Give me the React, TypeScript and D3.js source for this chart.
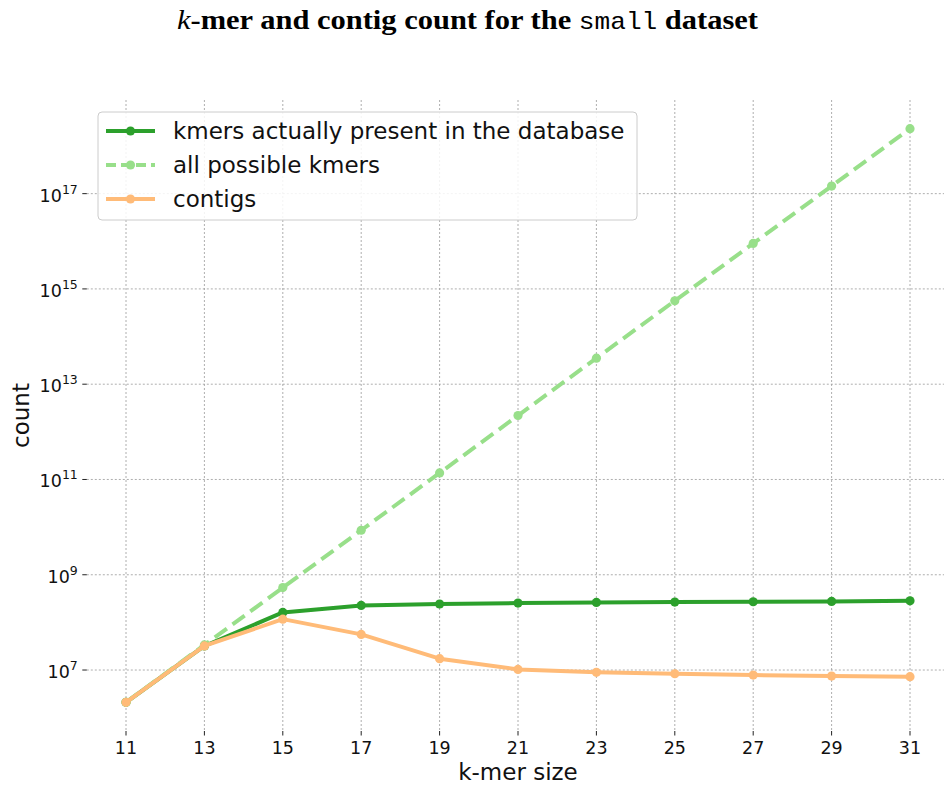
import { useEffect, useRef } from 'react';
import * as d3 from 'd3';

const kmerSizes = [11, 13, 15, 17, 19, 21, 23, 25, 27, 29, 31];
const presentKmers = [2.1e6, 3.2e7, 1.62e8, 2.27e8, 2.43e8, 2.54e8, 2.63e8, 2.67e8, 2.71e8, 2.76e8, 2.84e8];
const possibleKmers = [2.1e6, 3.36e7, 5.37e8, 8.59e9, 1.37e11, 2.2e12, 3.52e13, 5.63e14, 9.0e15, 1.44e17, 2.31e18];
const contigs = [2.1e6, 3.2e7, 1.17e8, 5.6e7, 1.73e7, 1.03e7, 8.95e6, 8.36e6, 7.85e6, 7.48e6, 7.24e6];
const yTickExponents = [7, 9, 11, 13, 15, 17];

type Series = {
  name: string;
  values: number[];
  color: string;
  dash: string | null;
};

const series: Series[] = [
  { name: 'kmers actually present in the database', values: presentKmers, color: '#2ca02c', dash: null },
  { name: 'all possible kmers', values: possibleKmers, color: '#98df8a', dash: '15,7' },
  { name: 'contigs', values: contigs, color: '#ffbb78', dash: null },
];

const WIDTH = 944;
const HEIGHT = 787;
const plot = { left: 86.8, right: 949.2, top: 100, bottom: 731 };
const SANS = '"DejaVu Sans", sans-serif';

function drawChart(svgElement: SVGSVGElement) {
  const svg = d3.select(svgElement);
  svg.selectAll('*').remove();

  // matplotlib-style 5% margins (log space for y)
  const xExt = d3.extent(kmerSizes) as [number, number];
  const xPad = (xExt[1] - xExt[0]) * 0.05;
  const x = d3.scaleLinear().domain([xExt[0] - xPad, xExt[1] + xPad]).range([plot.left, plot.right]);

  const all = series.flatMap((s) => s.values).map((v) => Math.log10(v));
  const lo = d3.min(all) ?? 6;
  const hi = d3.max(all) ?? 18;
  const yPad = (hi - lo) * 0.05;
  const y = d3
    .scaleLog()
    .domain([Math.pow(10, lo - yPad), Math.pow(10, hi + yPad)])
    .range([plot.bottom, plot.top]);

  // grid
  const grid = svg.append('g').attr('stroke', '#999999').attr('stroke-width', 0.8).attr('stroke-dasharray', '2,2');
  grid
    .selectAll('line.v')
    .data(kmerSizes)
    .join('line')
    .attr('x1', (d: number) => x(d))
    .attr('x2', (d: number) => x(d))
    .attr('y1', plot.top)
    .attr('y2', plot.bottom);
  grid
    .selectAll('line.h')
    .data(yTickExponents)
    .join('line')
    .attr('class', 'h')
    .attr('x1', plot.left)
    .attr('x2', plot.right)
    .attr('y1', (e: number) => y(Math.pow(10, e)))
    .attr('y2', (e: number) => y(Math.pow(10, e)));

  // x ticks
  const xt = svg.append('g');
  xt.selectAll('line')
    .data(kmerSizes)
    .join('line')
    .attr('x1', (d: number) => x(d))
    .attr('x2', (d: number) => x(d))
    .attr('y1', plot.bottom)
    .attr('y2', plot.bottom + 4.5)
    .attr('stroke', '#222')
    .attr('stroke-width', 1);
  xt.selectAll('text')
    .data(kmerSizes)
    .join('text')
    .attr('x', (d: number) => x(d))
    .attr('y', plot.bottom + 22.5)
    .attr('text-anchor', 'middle')
    .attr('font-family', SANS)
    .attr('font-size', 17.5)
    .attr('fill', '#111')
    .text((d: number) => String(d));

  // y ticks
  const yt = svg.append('g');
  yt.selectAll('line')
    .data(yTickExponents)
    .join('line')
    .attr('x1', plot.left - 4.5)
    .attr('x2', plot.left)
    .attr('y1', (e: number) => y(Math.pow(10, e)))
    .attr('y2', (e: number) => y(Math.pow(10, e)))
    .attr('stroke', '#222')
    .attr('stroke-width', 1);
  const labels = yt
    .selectAll('text')
    .data(yTickExponents)
    .join('text')
    .attr('x', plot.left - 9)
    .attr('y', (e: number) => y(Math.pow(10, e)) + 8)
    .attr('text-anchor', 'end')
    .attr('font-family', SANS)
    .attr('font-size', 17.5)
    .attr('fill', '#111');
  labels.append('tspan').text('10');
  labels
    .append('tspan')
    .attr('dy', -8)
    .attr('font-size', 12.5)
    .text((e: number) => String(e));

  // lines
  for (const s of series) {
    const pts: [number, number][] = kmerSizes.map((k, i) => [k, s.values[i]]);
    const line = d3
      .line<[number, number]>()
      .x((p) => x(p[0]))
      .y((p) => y(p[1]));
    const g = svg.append('g');
    g.append('path')
      .attr('d', line(pts) ?? '')
      .attr('fill', 'none')
      .attr('stroke', s.color)
      .attr('stroke-width', 4)
      .attr('stroke-linejoin', 'round')
      .attr('stroke-dasharray', s.dash);
    g.selectAll('circle')
      .data(pts)
      .join('circle')
      .attr('cx', (p: [number, number]) => x(p[0]))
      .attr('cy', (p: [number, number]) => y(p[1]))
      .attr('r', 4.6)
      .attr('fill', s.color);
  }

  // legend
  const leg = svg.append('g');
  leg
    .append('rect')
    .attr('x', 98)
    .attr('y', 112)
    .attr('width', 539)
    .attr('height', 108)
    .attr('rx', 4)
    .attr('fill', 'white')
    .attr('fill-opacity', 0.85)
    .attr('stroke', '#cccccc')
    .attr('stroke-width', 1);
  series.forEach((s, i) => {
    const cy = 131 + i * 34;
    leg
      .append('line')
      .attr('x1', 106)
      .attr('x2', 155)
      .attr('y1', cy)
      .attr('y2', cy)
      .attr('stroke', s.color)
      .attr('stroke-width', 4)
      .attr('stroke-dasharray', s.dash ? '10,5' : null);
    leg.append('circle').attr('cx', 130.5).attr('cy', cy).attr('r', 4.6).attr('fill', s.color);
    leg
      .append('text')
      .attr('x', 173)
      .attr('y', cy + 8)
      .attr('font-family', SANS)
      .attr('font-size', 23)
      .attr('fill', '#111')
      .text(s.name);
  });

  // axis titles
  svg
    .append('text')
    .attr('x', (plot.left + plot.right) / 2)
    .attr('y', 780)
    .attr('text-anchor', 'middle')
    .attr('font-family', SANS)
    .attr('font-size', 23)
    .attr('fill', '#111')
    .text('k-mer size');
  svg
    .append('text')
    .attr('transform', `translate(29,${(plot.top + plot.bottom) / 2}) rotate(-90)`)
    .attr('text-anchor', 'middle')
    .attr('font-family', SANS)
    .attr('font-size', 23)
    .attr('fill', '#111')
    .text('count');

  // title with mixed fonts (LaTeX look)
  const title = svg
    .append('text')
    .attr('x', 177)
    .attr('y', 29)
    .attr('textLength', 581)
    .attr('lengthAdjust', 'spacingAndGlyphs')
    .attr('font-family', '"Liberation Serif", serif')
    .attr('font-size', 28)
    .attr('fill', '#000');
  title.append('tspan').attr('font-style', 'italic').text('k');
  title.append('tspan').attr('font-weight', 'bold').text('-mer and contig count for the ');
  title.append('tspan').attr('font-family', '"Liberation Mono", monospace').attr('font-size', 24).text('small');
  title.append('tspan').attr('font-weight', 'bold').text(' dataset');
}

export default function App() {
  const ref = useRef<SVGSVGElement>(null);

  useEffect(() => {
    if (ref.current) {
      drawChart(ref.current);
    }
  }, []);

  return (
    <svg
      ref={ref}
      width={WIDTH}
      height={HEIGHT}
      style={{ position: 'absolute', left: 0, top: 0, display: 'block', background: 'white' }}
    />
  );
}
